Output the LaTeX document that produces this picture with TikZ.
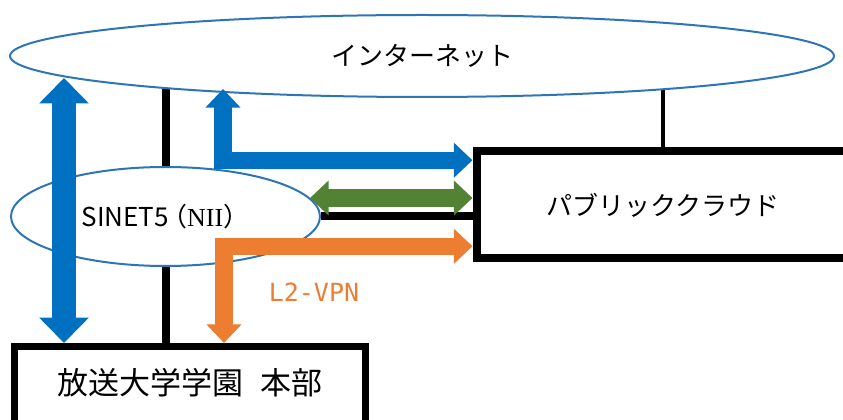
\documentclass[tikz,border=0pt]{standalone}
\usepackage{fontspec}
\setmainfont{Noto Sans CJK JP}
\newfontfamily\niifont{Liberation Serif}
\newfontfamily\vpnfont{DejaVu Sans Mono}
\usetikzlibrary{positioning,calc,arrows.meta,shapes.geometric,backgrounds}

\definecolor{ringblue}{HTML}{2E75B6}
\definecolor{netblue}{HTML}{0070C0}
\definecolor{peergreen}{HTML}{548235}
\definecolor{vpnorange}{HTML}{ED7D31}

\begin{document}
\begin{tikzpicture}[
    x=0.75pt,y=-0.75pt,
    net/.style={ellipse,draw=ringblue,line width=1.5pt,fill=white,inner sep=0pt,font=\fontsize{19.5pt}{22pt}\selectfont},
    box/.style={rectangle,draw,line width=6pt,inner sep=0pt},
    link/.style={line width=6pt},
    arrow/.style={line width=13pt,line join=miter,>={Triangle[width=25.5pt,length=14pt]},<->},
    bigarrow/.style={draw=netblue,line width=18pt,>={Triangle[width=36pt,length=19pt]},<->}
]

\useasboundingbox (0,0) rectangle (843,420);

% Networks
\node[net,minimum width=618pt,minimum height=61.5pt] (inet) at (422,56) {インターネット};
\node[net,minimum width=231.75pt,minimum height=74.25pt] (sinet) at (165.5,216.5) {SINET5\kern-.3em（{\niifont NII}）};

% Sites (both run off the page)
\node[box,minimum width=318pt,minimum height=80.6pt] (cloud) at (688.5,204.25) {};
\node[font=\fontsize{19.5pt}{22pt}\selectfont] (cloudtext) at (663,205) {パブリッククラウド};
\node[box,line width=5.25pt,minimum width=262.9pt,minimum height=75pt] (hq) at (190,396.5) {};
\node[font=\fontsize{23.25pt}{26pt}\selectfont] (hqtext) at (190,383) {放送大学学園\hspace{.55em}本部};

% Where the arrows meet the networks
\coordinate (inetTipA) at (64,78);
\coordinate (inetTipB) at (223,89);
\coordinate (sinetTip) at (310,198);
\coordinate (vpnBend) at (224,246);

% Physical links
\begin{scope}[on background layer]
    \draw[link] (sinet.north) -- (sinet.north |- inet.center);
    \draw[link] (sinet.south) -- (sinet.south |- hq.north);
    \draw[link] (sinet.east) -- (sinet.east -| cloud.west);
    \draw[line width=3pt] (cloudtext |- cloud.north) -- (cloudtext |- inet.center);
\end{scope}

% Traffic
\draw[bigarrow] (inetTipA |- hq.north) -- (inetTipA);
\draw[arrow,draw=netblue] (inetTipB) |- ($(cloud.west)+(0,-44)$);
\draw[arrow,draw=peergreen] (sinetTip) -- (sinetTip -| cloud.west);
\draw[arrow,draw=vpnorange] (vpnBend |- hq.north) |- ($(cloud.west)+(0,42)$);

\node[text=vpnorange,font=\vpnfont\fontsize{18.75pt}{21pt}\selectfont] (vpnlabel) at (314,292) {L2-VPN};

\end{tikzpicture}
\end{document}
